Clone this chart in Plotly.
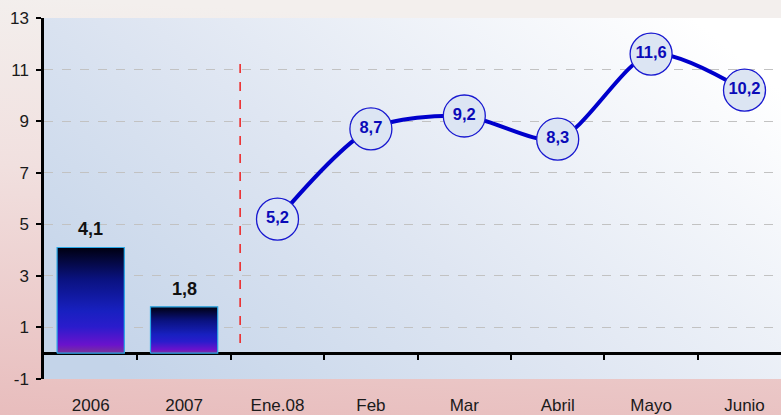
import base64
import plotly.graph_objects as go

# ---------------- data ----------------
categories = ["2006", "2007", "Ene.08", "Feb", "Mar", "Abril", "Mayo", "Junio"]
bar_categories = ["2006", "2007"]
bar_values = [4.1, 1.8]
line_categories = ["Ene.08", "Feb", "Mar", "Abril", "Mayo", "Junio"]
line_values = [5.2, 8.7, 9.2, 8.3, 11.6, 10.2]
y_tickvals = [-1, 1, 3, 5, 7, 9, 11, 13]
y_ticktext = ["-1", "1", "3", "5", "7", "9", "11", "13"]

# ---------------- layout constants ----------------
W, H = 781, 415
ML, MR, MT, MB = 44, 0, 18, 36
PW, PH = W - ML - MR, H - MT - MB
cat_w = 93.4
x_range = [-0.5, -0.5 + PW / cat_w]
divider_x = 1.6
divider_y = [0.4, 11.3]
bar_width = 0.72
FONT = "Liberation Sans, Arial, sans-serif"


def fmt(v):
    return f"{v:.1f}".replace(".", ",")


pos = {c: i for i, c in enumerate(categories)}

# background gradients as an SVG image
svg = f"""<svg xmlns='http://www.w3.org/2000/svg' width='{W}' height='{H}' viewBox='0 0 {W} {H}' preserveAspectRatio='none'>
<defs>
<linearGradient id='pg' x1='0.1' y1='0' x2='0' y2='1'>
<stop offset='0' stop-color='#f3efed'/>
<stop offset='0.4' stop-color='#f1e0df'/>
<stop offset='1' stop-color='#e8bdbd'/>
</linearGradient>
<linearGradient id='ag' x1='0' y1='0.8' x2='1' y2='0.2'>
<stop offset='0' stop-color='#c4d4e9'/>
<stop offset='0.45' stop-color='#dfe6f2'/>
<stop offset='1' stop-color='#ffffff'/>
</linearGradient>
</defs>
<rect x='0' y='0' width='{W}' height='{H}' fill='url(#pg)'/>
<rect x='{ML}' y='{MT}' width='{PW}' height='{PH}' fill='url(#ag)'/>
</svg>"""
svg_uri = "data:image/svg+xml;base64," + base64.b64encode(svg.encode()).decode()

fig = go.Figure()

# bars with vertical gradient
bar_scale = [
    [0.0, "#7a3596"],
    [0.08, "#6a12cc"],
    [0.25, "#2a1ccc"],
    [0.4, "#1820c0"],
    [0.7, "#0a1280"],
    [1.0, "#000010"],
]
for c, v in zip(bar_categories, bar_values):
    xc = pos[c]
    x0, x1 = xc - bar_width / 2, xc + bar_width / 2
    fig.add_trace(go.Scatter(
        x=[x0, x1, x1, x0, x0], y=[0, 0, v, v, 0],
        mode="lines", fill="toself",
        fillgradient=dict(type="vertical", colorscale=bar_scale),
        line=dict(color="#2aa8e6", width=1.2),
        hoverinfo="skip", showlegend=False,
    ))
    fig.add_annotation(x=xc, y=v, xref="x", yref="y", text=f"<b>{fmt(v)}</b>",
                       showarrow=False, yanchor="bottom", yshift=6,
                       font=dict(family=FONT, size=18, color="#111111"))

# line series
fig.add_trace(go.Scatter(
    x=[pos[c] for c in line_categories], y=line_values,
    mode="lines+markers+text",
    line=dict(color="#0000cc", width=4, shape="spline", smoothing=0.8),
    marker=dict(size=42, color="#dce5f3", line=dict(color="#1818d0", width=1.3)),
    text=[fmt(v) for v in line_values], textposition="middle center",
    textfont=dict(family=FONT, size=16.5, color="#0a0ab8", weight="bold"),
    showlegend=False, cliponaxis=False,
))

# invisible trace to anchor the tick-mark axis at y=0
fig.add_trace(go.Scatter(x=[0], y=[0], xaxis="x2", yaxis="y", mode="none",
                         showlegend=False, hoverinfo="skip"))

fig.add_shape(type="line", x0=divider_x, x1=divider_x, y0=divider_y[0], y1=divider_y[1],
              xref="x", yref="y", line=dict(color="#ee2020", width=1.5, dash="dash"))

fig.update_layout(
    width=W, height=H,
    margin=dict(l=ML, r=MR, t=MT, b=MB, pad=0, autoexpand=False),
    paper_bgcolor="#efdcdc", plot_bgcolor="rgba(0,0,0,0)",
    images=[dict(source=svg_uri, xref="paper", yref="paper",
                 x=-ML / PW, y=1 + MT / PH, sizex=W / PW, sizey=H / PH,
                 xanchor="left", yanchor="top", sizing="stretch", layer="below")],
    font=dict(family=FONT, size=17, color="#1a1a1a"),
    xaxis=dict(range=x_range, tickmode="array", tickvals=list(range(len(categories))),
               ticktext=categories, ticks="", showgrid=False, zeroline=False,
               showline=False, ticklabelstandoff=14, tickfont=dict(size=17),
               automargin=False),
    xaxis2=dict(range=x_range, overlaying="x", anchor="free", position=1 / 14,
                tickmode="array", tickvals=[i + 0.5 for i in range(len(categories) - 1)],
                ticks="outside", ticklen=6, tickwidth=1.5, tickcolor="#000000",
                showticklabels=False, showgrid=False, zeroline=False, showline=False,
                automargin=False),
    yaxis=dict(range=[-1, 13], tickmode="array", tickvals=y_tickvals, ticktext=y_ticktext,
               ticks="outside", ticklen=5, tickwidth=2, tickcolor="#000000",
               showline=True, linecolor="#000000", linewidth=2.5,
               showgrid=True, gridcolor="#c2c2c2", griddash="dash", gridwidth=1,
               zeroline=True, zerolinecolor="#000000", zerolinewidth=3,
               tickfont=dict(size=17), ticklabelstandoff=4, automargin=False),
    showlegend=False,
)

fig.write_html("out.html", config={"displayModeBar": False},
               post_script="document.body.style.margin='0';document.body.style.overflow='hidden';")
